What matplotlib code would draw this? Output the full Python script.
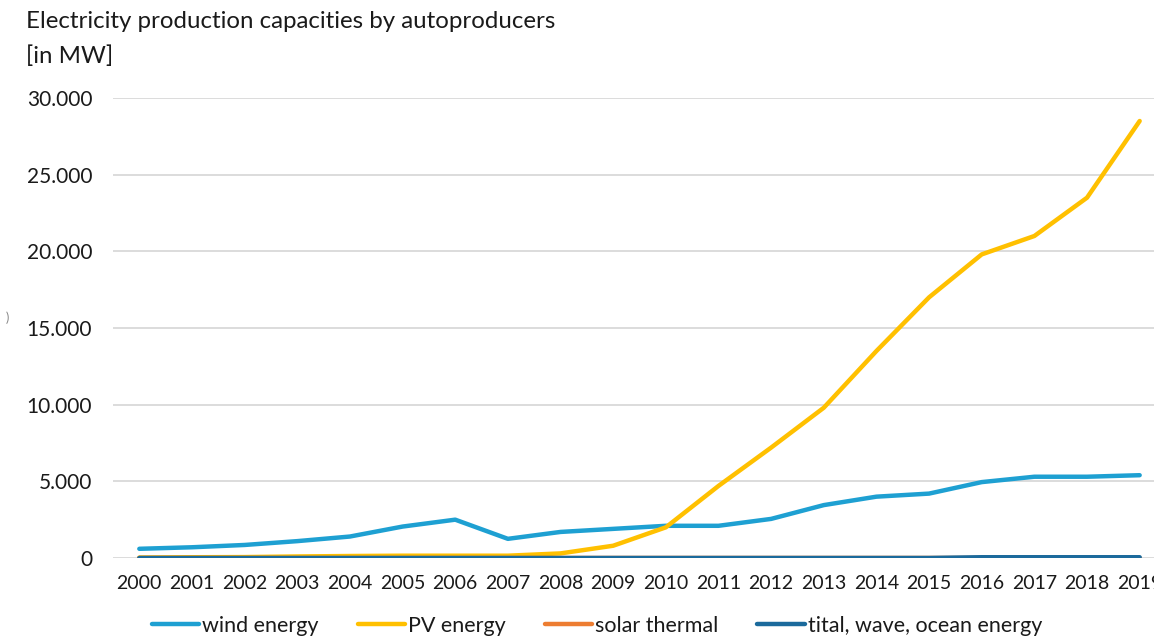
import matplotlib.pyplot as plt
from matplotlib.ticker import FuncFormatter

years = [str(y) for y in range(2000, 2020)]
wind = [600, 700, 850, 1100, 1400, 2050, 2500, 1250, 1700, 1900,
        2100, 2100, 2550, 3450, 4000, 4200, 4950, 5300, 5300, 5400]
pv = [30, 50, 60, 100, 130, 150, 150, 150, 300, 800,
      2000, 4700, 7200, 9800, 13500, 17000, 19800, 21000, 23500, 28500]
solar_thermal = [0, 0, 0, 0, 0, 0, 0, 0, 0, 2,
                 2, 2, 2, 2, 2, 2, 2, 2, 2, 2]
tidal = [0, 0, 0, 0, 0, 0, 0, 0, 0, 0,
         0, 0, 0, 0, 0, 0, 50, 50, 50, 50]

plt.rcParams['font.family'] = ['Lato', 'DejaVu Sans']
txt = '#1a1a1a'

fig = plt.figure(figsize=(11.54, 6.39), dpi=100)
W, H = 1154, 639
left, right, top, bottom = 113, 1166, 98, 558
ax = fig.add_axes([left / W, 1 - bottom / H, (right - left) / W, (bottom - top) / H])

x = range(len(years))
lw = 3.2
ax.plot(x, wind, color='#1ea0d2', lw=lw, label='wind energy', solid_capstyle='round')
ax.plot(x, pv, color='#ffc000', lw=lw, label='PV energy', solid_capstyle='round')
ax.plot(x, solar_thermal, color='#ed7d31', lw=lw, label='solar thermal', solid_capstyle='round')
ax.plot(x, tidal, color='#1b6a9c', lw=lw, label='tital, wave, ocean energy', solid_capstyle='round')

ax.set_xlim(-0.5, 19.5)
ax.set_ylim(0, 30000)
ax.set_yticks(range(0, 30001, 5000))
ax.yaxis.set_major_formatter(FuncFormatter(lambda v, p: f'{int(v):,}'.replace(',', '.')))
ax.set_xticks(list(x))
ax.set_xticklabels(years)
ax.tick_params(axis='both', length=0, colors=txt)
ax.tick_params(axis='x', pad=12, labelsize=14)
ax.tick_params(axis='y', pad=15, labelsize=15)

ax.grid(axis='y', color='#d9d9d9', lw=1.3)
ax.set_axisbelow(True)
for s in ax.spines.values():
    s.set_visible(False)

fig.text(26 / W, 1 - 22 / H, 'Electricity production capacities by autoproducers',
         fontsize=17.3, va='center', ha='left', color=txt)
fig.text(26 / W, 1 - 56 / H, '[in MW]', fontsize=17.3, va='center', ha='left', color=txt)
fig.text(6 / W, 1 - 318 / H, ')', fontsize=9, va='center', ha='left', color='#888888')

fig.legend(loc='center', bbox_to_anchor=(597 / W, 1 - 626 / H), ncol=4, frameon=False,
           fontsize=15.5, handlelength=2.2, handletextpad=0.15, columnspacing=1.8,
           labelcolor=txt)

fig.savefig('out.png', dpi=100)
